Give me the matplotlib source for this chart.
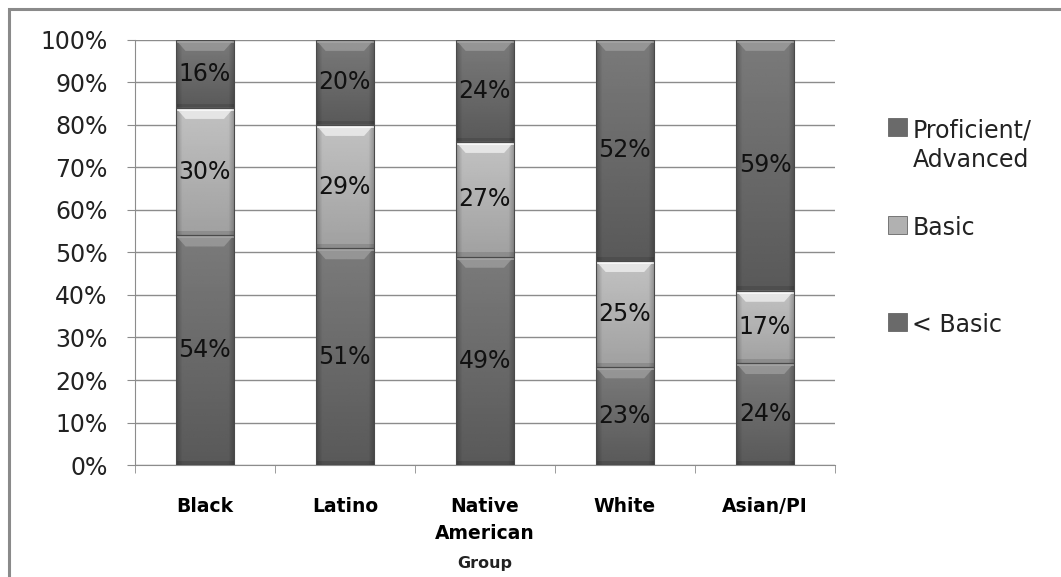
import matplotlib.pyplot as plt
import matplotlib.patches as mpatches
import numpy as np

groups = ['Black', 'Latino', 'Native\nAmerican', 'White', 'Asian/PI']
below_basic = [54, 51, 49, 23, 24]
basic = [30, 29, 27, 25, 17]
proficient = [16, 20, 24, 52, 59]

# (label, values, top shade, bottom shade, bevel colour)
series = [('< Basic', below_basic, 0.48, 0.35, '#a8a8a8'),
          ('Basic', basic, 0.76, 0.63, '#ffffff'),
          ('Proficient/\nAdvanced', proficient, 0.48, 0.35, '#a8a8a8')]

plt.rcParams['font.family'] = ['DejaVu Sans']

fig = plt.figure(figsize=(10.61, 5.77), dpi=100)
ax = fig.add_axes([0.127, 0.194, 0.66, 0.737])

# outer chart frame, runs off the right and bottom edges
fig.patches.append(mpatches.Rectangle((0.0085, -0.2), 1.5, 1.184, transform=fig.transFigure,
                                      fill=False, edgecolor='#8a8a8a', linewidth=2.2))


def shade_bar(b, top_c, bot_c, bevel_c):
    x0, y0 = b.get_x(), b.get_y()
    w, h = b.get_width(), b.get_height()
    ny, nx = 64, 32
    yy = np.linspace(0, 1, ny)[:, None]
    xx = np.linspace(-1, 1, nx)[None, :]
    vert = bot_c + (top_c - bot_c) * yy
    edge = 1 - 0.22 * np.clip(np.abs(xx) - 0.8, 0, None) / 0.2
    img = np.clip(vert * edge, 0, 1)
    im = ax.imshow(img, cmap='gray', vmin=0, vmax=1, origin='lower', aspect='auto',
                   extent=(x0, x0 + w, y0, y0 + h), zorder=3, interpolation='bilinear')
    im.set_clip_path(b)
    # bevel along the top of the segment
    bh = 2.6
    ins = 0.07
    ax.add_patch(mpatches.Polygon([(x0, y0 + h), (x0 + w, y0 + h), (x0 + w - ins, y0 + h - bh),
                                   (x0 + ins, y0 + h - bh)], closed=True,
                                  facecolor=bevel_c, alpha=0.6, edgecolor='none', zorder=4))
    ax.add_patch(mpatches.Rectangle((x0, y0 + h - 0.7), w, 0.7, facecolor=bevel_c, alpha=0.7,
                                    edgecolor='none', zorder=4))
    # darker lip at the bottom of the segment
    ax.add_patch(mpatches.Rectangle((x0, y0), w, 1.0, facecolor='black', alpha=0.12,
                                    edgecolor='none', zorder=4))


x = np.arange(len(groups))
width = 0.415
bottom = np.zeros(len(groups))
for name, vals, top_c, bot_c, bev in series:
    vals = np.array(vals, dtype=float)
    bars = ax.bar(x, vals, width, bottom=bottom, color='none', edgecolor='#4a4a4a',
                  linewidth=0.8, zorder=5)
    for b, v, b0 in zip(bars, vals, bottom):
        shade_bar(b, top_c, bot_c, bev)
        ax.text(b.get_x() + b.get_width() / 2, b0 + v / 2, f'{int(v)}%', ha='center',
                va='center', fontsize=17, color='#111111', zorder=6)
    bottom += vals

ax.set_ylim(0, 100)
ax.set_xlim(-0.5, len(groups) - 0.5)
ax.set_yticks(np.arange(0, 101, 10))
ax.set_yticklabels([f'{v}%' for v in range(0, 101, 10)], fontsize=17, color='#222222')
ax.set_xticks(x)
ax.set_xticklabels(groups, fontsize=13.5, fontweight='bold', linespacing=1.5)
ax.set_xticks(np.arange(-0.5, len(groups)), minor=True)
ax.tick_params(axis='x', which='major', length=0, pad=23)
ax.tick_params(axis='x', which='minor', length=6, color='#8c8c8c')
ax.tick_params(axis='y', length=6, color='#8c8c8c', pad=13.5)
ax.grid(axis='y', color='#8c8c8c', linewidth=1.0, zorder=0)
for s in ['top', 'right']:
    ax.spines[s].set_visible(False)
for s in ['left', 'bottom']:
    ax.spines[s].set_color('#8c8c8c')
ax.set_xlabel('Group', fontsize=11.5, fontweight='bold', labelpad=10, color='#222222')

# legend, swatch lined up with the first line of each label
legend_y = [0.779, 0.609, 0.442]
for (name, vals, top_c, bot_c, bev), ly in zip(series[::-1], legend_y):
    c = (top_c + bot_c) / 2
    fig.patches.append(mpatches.Rectangle((0.837, ly - 0.015), 0.0175, 0.031,
                                          transform=fig.transFigure, facecolor=str(c),
                                          edgecolor='#666666', linewidth=0.6))
    fig.text(0.86, ly + 0.016, name, fontsize=17, va='top', ha='left', color='#222222',
             linespacing=1.3)

fig.savefig('out.png', dpi=100)
